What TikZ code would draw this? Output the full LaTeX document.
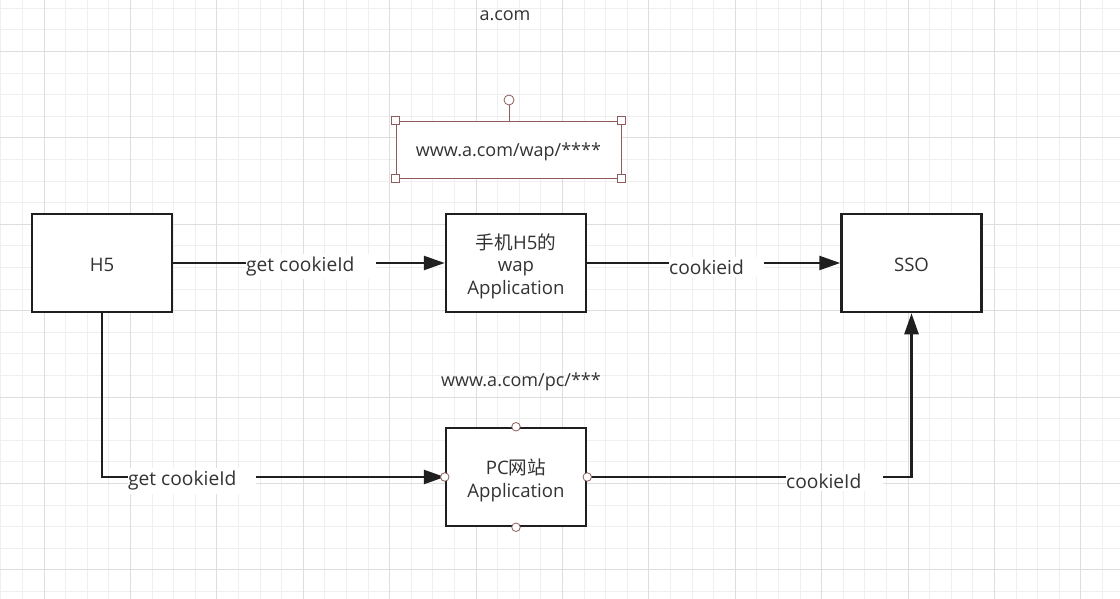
\documentclass[tikz,border=0pt]{standalone}
\usepackage{fontspec}
\setmainfont{Open Sans}
\newfontfamily\cjk{Noto Sans CJK SC}
\usetikzlibrary{arrows.meta}
\definecolor{gridminor}{HTML}{EFEFEF}
\definecolor{gridmajor}{HTML}{DEDEDE}
\definecolor{selc}{HTML}{8E5C5C}
\definecolor{ink}{HTML}{333333}
\begin{document}
\begin{tikzpicture}[x=1pt,y=-1pt,
  box/.style={draw=black!88, line width=2.5pt, fill=white, minimum width=140pt,
    minimum height=98pt, inner sep=0pt},
  boxtext/.style={align=center, inner sep=0pt, yshift=-3pt,
    font=\fontsize{18.6}{22.5}\selectfont, text=ink},
  txt/.style={font=\fontsize{18}{22}\selectfont, text=ink, inner sep=0pt},
  lab/.style={font=\fontsize{19.2}{22}\selectfont, text=ink, inner sep=0pt,
    fill=white, anchor=west, inner ysep=3pt},
  conn/.style={draw=black!88, line width=2.5pt},
  arr/.style={conn, -{Triangle[length=21pt,width=14pt]}},
  handle/.style={draw=selc, fill=white, minimum size=8pt, inner sep=0pt, line width=0.8pt},
  dot/.style={circle, draw=selc, fill=white, minimum size=8.5pt, inner sep=0pt, line width=0.8pt}
]
\useasboundingbox (0,0) rectangle (1120,599);
\fill[white] (0,0) rectangle (1120,599);

% background grid
\foreach \i in {0,...,51}
  \draw[gridminor, line width=1pt] ({0.8+21.6*\i},0) -- ++(0,599);
\foreach \j in {0,...,27}
  \draw[gridminor, line width=1pt] (0,{8.3+21.6*\j}) -- ++(1120,0);
\foreach \i in {2,6,...,50}
  \draw[gridmajor, line width=1pt] ({0.8+21.6*\i},0) -- ++(0,599);
\foreach \j in {2,6,...,26}
  \draw[gridmajor, line width=1pt] (0,{8.3+21.6*\j}) -- ++(1120,0);

% titles
\node[txt] (domain) at (505,16) {a.com};
\node[txt] (pcurl) at (521,382) {www.a.com/pc/***};

% selected url label with its handles
\node[draw=selc, line width=0.8pt, fill=white, minimum width=225pt, minimum height=57pt,
  txt] (sel) at (508.5,149.5) {};
\node[txt, yshift=-2pt] (seltext) at (sel.center) {www.a.com/wap/****};
\node[dot, minimum size=10pt] (rot) at (509,100) {};
\draw[selc, line width=0.8pt] (rot) -- (rot |- sel.north);
\node[handle] (hnw) at (sel.north west) {};
\node[handle] (hne) at (sel.north east) {};
\node[handle] (hsw) at (sel.south west) {};
\node[handle] (hse) at (sel.south east) {};

% boxes
\node[box] (h5)  at (102,263)   {};
\node[box] (wap) at (516,263)   {};
\node[box] (sso) at (911.5,263) {};
\node[box] (pc)  at (516,477)   {};
\node[boxtext, yshift=1pt] (h5t) at (h5.center) {H5};
\node[boxtext] (wapt) at (wap.center) {{\cjk 手机}H5{\cjk 的}\\wap\\Application};
\node[boxtext, yshift=1pt] (ssot) at (sso.center) {SSO};
\node[boxtext, yshift=-0.5pt] (pct) at (pc.center) {PC{\cjk 网站}\\Application};

% connectors
\draw[arr] (h5.east) -- (wap.west);
\draw[arr] (wap.east) -- (sso.west);
\draw[arr] (h5.south) |- (pc.west);
\draw[arr] (pc.east) -| (sso.south);

% connector labels
\node[lab] (l1) at (246,266.5) {get cookieId\rule{22pt}{0pt}};
\node[lab] (l2) at (669,267) {cookieid\rule{20pt}{0pt}};
\node[lab] (l3) at (128,481) {get cookieId\rule{20pt}{0pt}};
\node[lab] (l4) at (786,481) {cookieId\rule{22pt}{0pt}};

% connection points on the PC box
\node[dot] (pn) at (pc.north) {};
\node[dot] (ps) at (pc.south) {};
\node[dot] (pw) at (pc.west) {};
\node[dot] (pe) at (pc.east) {};
\end{tikzpicture}
\end{document}
